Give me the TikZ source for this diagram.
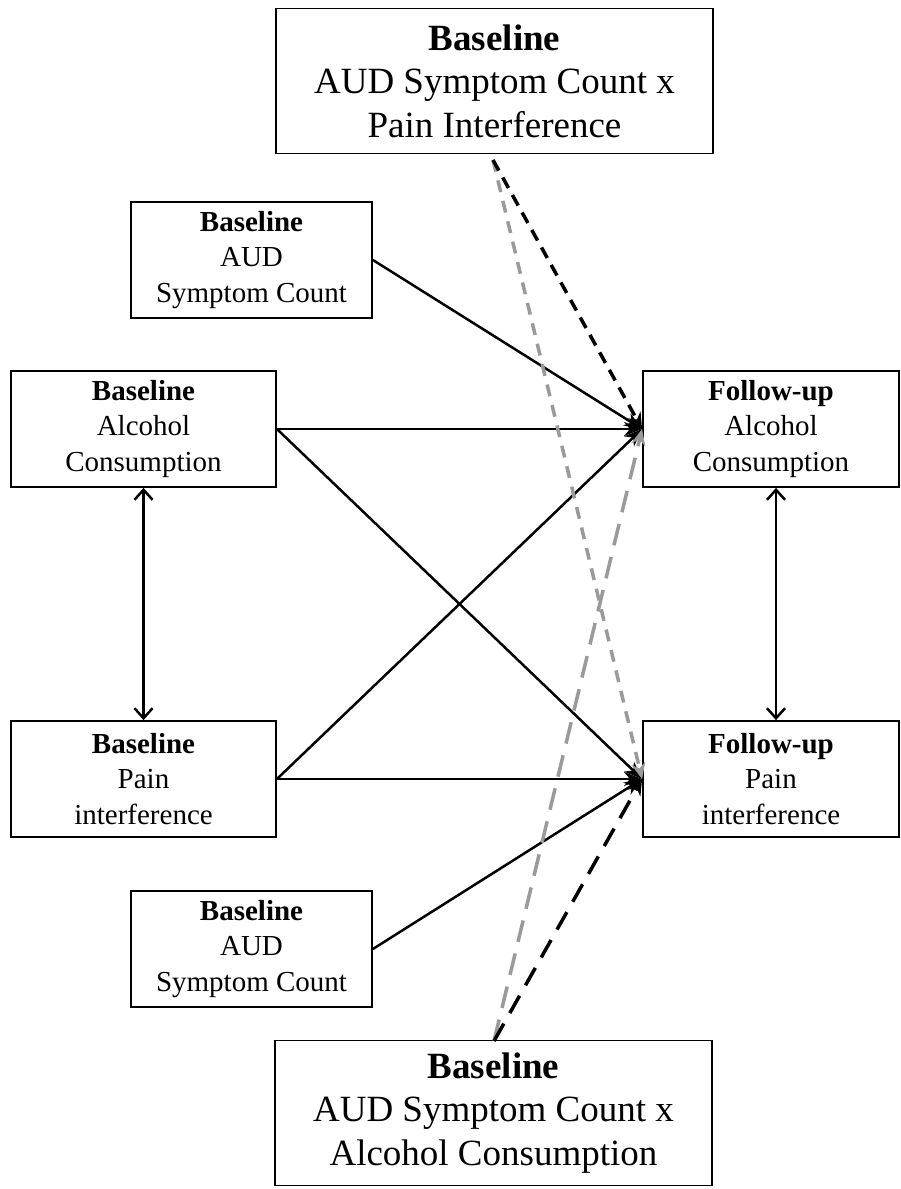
\documentclass[tikz,border=0pt]{standalone}
\usepackage{fontspec}
\setmainfont{Liberation Serif}
\usetikzlibrary{arrows.meta,calc}
\definecolor{dgray}{HTML}{9A9A9A}
\begin{document}
\begin{tikzpicture}[x=1pt,y=-1pt,
  box/.style={draw, line width=1.8pt, inner sep=0pt, align=center},
  smallbox/.style={box, minimum width=241pt, minimum height=116pt, font=\fontsize{29}{35.5}\selectfont},
  sidebox/.style={box, minimum width=265pt, minimum height=116pt, font=\fontsize{29}{35.5}\selectfont},
  rightbox/.style={box, minimum width=256pt, minimum height=116pt, font=\fontsize{29}{35.5}\selectfont},
  bigbox/.style={box, minimum width=437pt, minimum height=145pt, font=\fontsize{37}{43.5}\selectfont},
  path/.style={line width=2.5pt, -{Stealth[length=18pt,width=14pt]}},
  both/.style={line width=2.5pt, {Straight Barb[length=10pt,width=18pt]}-{Straight Barb[length=10pt,width=18pt]}},
  dashblack/.style={line width=3.5pt, black, dash pattern=on 12pt off 8pt, -{Stealth[length=16pt,width=14pt]}},
  dashgray/.style={line width=3.5pt, dgray, dash pattern=on 12pt off 9pt, -{Stealth[length=16pt,width=14pt]}},
  dashblackL/.style={line width=3.5pt, black, dash pattern=on 20pt off 12pt, -{Stealth[length=16pt,width=14pt]}},
  dashgrayL/.style={line width=3.5pt, dgray, dash pattern=on 22pt off 12pt, -{Stealth[length=16pt,width=14pt]}}]
\useasboundingbox[fill=white] (0,0) rectangle (901,1189);

\node[bigbox] (top) at (494.5,81) {\textbf{Baseline}\\AUD Symptom Count x\\Pain Interference};
\node[smallbox] (aud1) at (251.5,260) {\textbf{Baseline}\\AUD\\Symptom Count};
\node[sidebox] (ba) at (143.5,429) {\textbf{Baseline}\\Alcohol\\Consumption};
\node[sidebox] (bp) at (143.5,779) {\textbf{Baseline}\\Pain\\interference};
\node[smallbox] (aud2) at (251.5,949) {\textbf{Baseline}\\AUD\\Symptom Count};
\node[bigbox] (bot) at (493.5,1113) {\textbf{Baseline}\\AUD Symptom Count x\\Alcohol Consumption};
\node[rightbox] (fa) at (771,429) {\textbf{Follow-up}\\Alcohol\\Consumption};
\node[rightbox] (fp) at (771,779) {\textbf{Follow-up}\\Pain\\interference};

\coordinate (ts) at (493,160);
\coordinate (bs) at (494,1041);

\draw[path] (aud1.east) -- (fa.west);
\draw[path] (ba.east) -- (fa.west);
\draw[path] (ba.east) -- (fp.west);
\draw[path] (bp.east) -- (fa.west);
\draw[path] (bp.east) -- (fp.west);
\draw[path] (aud2.east) -- (fp.west);

\draw[both] (ba.south) -- (bp.north);
\draw[both] ($(fa.south)+(5,0)$) -- ($(fp.north)+(5,0)$);

\draw[dashgray] (ts) -- (fp.west);
\draw[dashblack] (ts) -- (fa.west);
\draw[dashgrayL] (bs) -- (fa.west);
\draw[dashblackL] (bs) -- (fp.west);
\end{tikzpicture}
\end{document}
